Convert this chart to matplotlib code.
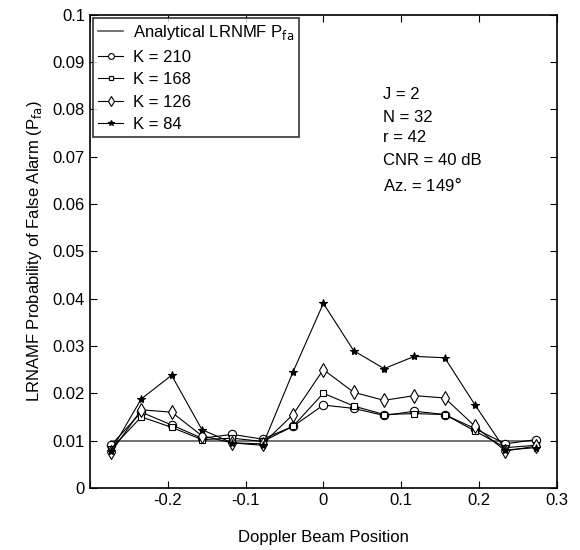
import matplotlib
matplotlib.use("Agg")
import matplotlib.pyplot as plt

plt.rcParams['font.family'] = ['Liberation Sans', 'DejaVu Sans']

# doppler beam positions
pos = [-0.273, -0.234, -0.195, -0.156, -0.117, -0.078, -0.039, 0.0,
       0.039, 0.078, 0.117, 0.156, 0.195, 0.234, 0.273]

pfa_analytic = 0.01

k210 = [0.0090, 0.0160, 0.0133, 0.0105, 0.0113, 0.0103, 0.0130, 0.0175,
        0.0168, 0.0153, 0.0162, 0.0155, 0.0125, 0.0093, 0.0102]
k168 = [0.0082, 0.0150, 0.0128, 0.0102, 0.0105, 0.0098, 0.0130, 0.0200,
        0.0173, 0.0155, 0.0157, 0.0155, 0.0120, 0.0085, 0.0090]
k126 = [0.0075, 0.0165, 0.0160, 0.0110, 0.0095, 0.0093, 0.0155, 0.0250,
        0.0202, 0.0185, 0.0195, 0.0190, 0.0130, 0.0078, 0.0088]
k84 = [0.0078, 0.0188, 0.0238, 0.0123, 0.0095, 0.0090, 0.0245, 0.0390,
       0.0290, 0.0252, 0.0278, 0.0275, 0.0175, 0.0080, 0.0085]

params = ['J = 2', 'N = 32', 'r = 42', 'CNR = 40 dB', 'Az. = 149$\\degree$']
param_y = [0.0831, 0.0784, 0.0740, 0.0693, 0.0640]

fig = plt.figure(figsize=(5.8, 5.5), dpi=100)
ax = fig.add_axes([0.155, 0.113, 0.805, 0.86])

ax.plot([pos[0], pos[-1]], [pfa_analytic, pfa_analytic], color='0.35', lw=1.2,
        label='Analytical LRNMF P$_{\\mathrm{fa}}$')
ax.plot(pos, k210, color='k', lw=0.8, marker='o', ms=6, mfc='white', mec='k', mew=0.8, label='K = 210')
ax.plot(pos, k168, color='k', lw=0.8, marker='s', ms=4.5, mfc='white', mec='k', mew=0.8, label='K = 168')
ax.plot(pos, k126, color='k', lw=0.8, marker='d', ms=7, mfc='white', mec='k', mew=0.8, label='K = 126')
ax.plot(pos, k84, color='k', lw=0.8, marker='*', ms=6, mfc='k', mec='k', mew=0.8, label='K = 84')

ax.set_xlim(-0.3, 0.3)
ax.set_ylim(0, 0.1)
ax.set_xticks([-0.3, -0.2, -0.1, 0, 0.1, 0.2, 0.3])
ax.set_xticklabels(['', '-0.2', '-0.1', '0', '0.1', '0.2', '0.3'])
ax.set_yticks([i * 0.01 for i in range(11)])
ax.set_yticklabels(['0', '0.01', '0.02', '0.03', '0.04', '0.05', '0.06', '0.07', '0.08', '0.09', '0.1'])
ax.tick_params(direction='in', labelsize=12, top=True, right=True, length=5, width=0.8)
for s in ax.spines.values():
    s.set_linewidth(1.2)

ax.set_xlabel('Doppler Beam Position', fontsize=12, labelpad=16)
ax.set_ylabel('LRNAMF Probability of False Alarm (P$_{\\mathrm{fa}}$)', fontsize=12, labelpad=6)

leg = ax.legend(loc='upper left', fontsize=12, frameon=True, fancybox=False,
                handlelength=1.5, borderpad=0.3, labelspacing=0.45, borderaxespad=0.2,
                handletextpad=0.6, markerscale=0.7)
leg.get_frame().set_edgecolor('k')
leg.get_frame().set_linewidth(1.2)

for txt, yv in zip(params, param_y):
    ax.text(0.077, yv, txt, fontsize=12, va='center')

fig.savefig('out.png', dpi=100)
